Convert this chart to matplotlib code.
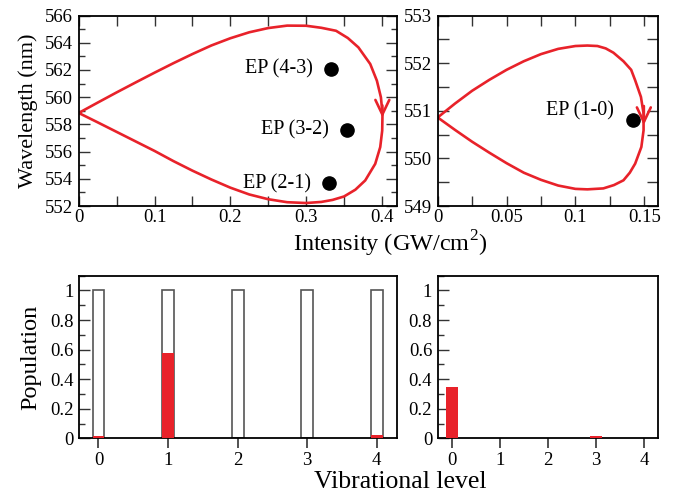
import matplotlib
matplotlib.use("Agg")
import matplotlib.pyplot as plt
from matplotlib.ticker import MultipleLocator, FuncFormatter

plt.rcParams["font.family"] = ["Liberation Serif", "DejaVu Serif"]
plt.rcParams["mathtext.fontset"] = "custom"
plt.rcParams["mathtext.rm"] = "Liberation Serif"

RED = "#e8222a"

# --- top-left loop ---
loop_a_x = [0.0, 0.025, 0.05, 0.075, 0.10, 0.125, 0.15, 0.175, 0.20, 0.225, 0.25, 0.275,
            0.30, 0.32, 0.3395, 0.355, 0.369, 0.3846, 0.3934, 0.3987, 0.4008, 0.4004,
            0.3978, 0.3912, 0.378, 0.365, 0.35, 0.335, 0.32, 0.30, 0.275, 0.25, 0.225,
            0.20, 0.175, 0.15, 0.125, 0.10, 0.075, 0.05, 0.025, 0.0]
loop_a_y = [558.84, 559.6, 560.35, 561.08, 561.8, 562.5, 563.17, 563.8, 564.33, 564.77,
            565.08, 565.26, 565.25, 565.1, 564.88, 564.35, 563.66, 562.44, 561.21, 559.99,
            558.77, 557.54, 556.33, 555.1, 553.88, 553.2, 552.7, 552.45, 552.3, 552.22,
            552.28, 552.5, 552.85, 553.35, 553.95, 554.6, 555.3, 556.05, 556.75, 557.45,
            558.15, 558.84]

# --- top-right loop ---
loop_b_x = [0.0, 0.0125, 0.025, 0.0375, 0.05, 0.0625, 0.075, 0.0875, 0.10, 0.1087, 0.116,
            0.122, 0.1276, 0.1349, 0.1405, 0.1434, 0.1476, 0.1495, 0.1495, 0.1479, 0.1434,
            0.1395, 0.1349, 0.128, 0.1203, 0.1087, 0.10, 0.0875, 0.075, 0.0625, 0.05,
            0.0375, 0.025, 0.0125, 0.0]
loop_b_y = [550.86, 551.15, 551.42, 551.65, 551.86, 552.04, 552.19, 552.3, 552.36, 552.37,
            552.36, 552.31, 552.22, 552.04, 551.86, 551.64, 551.29, 550.94, 550.59, 550.24,
            549.89, 549.7, 549.54, 549.44, 549.37, 549.35, 549.36, 549.43, 549.55, 549.7,
            549.9, 550.12, 550.35, 550.6, 550.86]

# exceptional points
ep_a_labels = ["EP (4-3)", "EP (3-2)", "EP (2-1)"]
ep_a_x = [0.333, 0.354, 0.330]
ep_a_y = [562.09, 557.57, 553.66]
ep_b_labels = ["EP (1-0)"]
ep_b_x = [0.1418]
ep_b_y = [550.80]

# populations
levels = [0, 1, 2, 3, 4]
pop_init = [1, 1, 1, 1, 1]
pop_a = [0.018, 0.58, 0.0, 0.0, 0.022]
pop_b = [0.35, 0.0, 0.0, 0.013, 0.0]

fig = plt.figure(figsize=(6.74, 4.95), dpi=100)
ax1 = fig.add_axes([0.1168, 0.5838, 0.4723, 0.3848])
ax2 = fig.add_axes([0.6494, 0.5838, 0.3269, 0.3848])
ax3 = fig.add_axes([0.1172, 0.1145, 0.4718, 0.3285])
ax4 = fig.add_axes([0.6494, 0.1145, 0.3269, 0.3285])

fmt = FuncFormatter(lambda v, p: f"{v:g}")


def style_top(ax, xmaj, xmin, ymaj, ymin, yminor_len):
    ax.xaxis.set_major_locator(MultipleLocator(xmaj))
    ax.xaxis.set_minor_locator(MultipleLocator(xmin))
    ax.yaxis.set_major_locator(MultipleLocator(ymaj))
    ax.yaxis.set_minor_locator(MultipleLocator(ymin))
    ax.xaxis.set_major_formatter(fmt)
    ax.yaxis.set_major_formatter(fmt)
    ax.tick_params(which="both", direction="in", top=True, right=True,
                   labelsize=13.5, width=1.0, color="#333333")
    ax.tick_params(axis="x", which="major", length=7.5, pad=2)
    ax.tick_params(axis="x", which="minor", length=7.5)
    ax.tick_params(axis="y", which="major", length=8, pad=4)
    ax.tick_params(axis="y", which="minor", length=yminor_len)
    for s in ax.spines.values():
        s.set_linewidth(1.3)


def draw_loop(ax, xs, ys, tip, tail):
    ax.plot(xs, ys, color=RED, lw=1.9, solid_joinstyle="round")
    ax.annotate("", xy=tip, xytext=tail,
                arrowprops=dict(arrowstyle="->,head_length=1.05,head_width=0.5",
                                color=RED, lw=1.9, shrinkA=0, shrinkB=0))


# top-left
draw_loop(ax1, loop_a_x, loop_a_y, (0.4006, 558.5), (0.4006, 559.4))
ax1.plot(ep_a_x, ep_a_y, "o", color="black", ms=9.5)
for lab, x, y in zip(ep_a_labels, ep_a_x, ep_a_y):
    ax1.text(x - 0.024, y, lab, ha="right", va="center", fontsize=14.5)
ax1.set_xlim(0, 0.42)
ax1.set_ylim(552, 566)
style_top(ax1, 0.1, 0.05, 2, 1, 4)
ax1.set_ylabel("Wavelength (nm)", fontsize=16, labelpad=5)

# top-right
draw_loop(ax2, loop_b_x, loop_b_y, (0.1497, 550.70), (0.1497, 551.1))
ax2.plot(ep_b_x, ep_b_y, "o", color="black", ms=9.5)
for lab, x, y in zip(ep_b_labels, ep_b_x, ep_b_y):
    ax2.text(x - 0.0135, y + 0.19, lab, ha="right", va="center", fontsize=14.5)
ax2.set_xlim(0, 0.16)
ax2.set_ylim(549, 553)
style_top(ax2, 0.05, 0.025, 1, 0.5, 8)

fig.text(0.579, 0.508, "Intensity (GW/cm$^2$)", ha="center", va="center", fontsize=17.5)


def style_bottom(ax):
    ax.set_ylim(0, 1.1)
    ax.set_xticks(levels)
    ax.yaxis.set_major_locator(MultipleLocator(0.2))
    ax.yaxis.set_minor_locator(MultipleLocator(0.1))
    ax.yaxis.set_major_formatter(fmt)
    ax.tick_params(axis="y", which="both", direction="in", labelsize=13.5,
                   width=1.0, color="#333333")
    ax.tick_params(axis="y", which="major", length=8, pad=4)
    ax.tick_params(axis="y", which="minor", length=4)
    ax.tick_params(axis="x", direction="out", length=7, width=1.2,
                   color="#333333", labelsize=13.5, pad=3)
    for s in ax.spines.values():
        s.set_linewidth(1.3)


# bottom-left
ax3.bar(levels, pop_init, width=0.17, color="white", edgecolor="#555555",
        linewidth=1.2, zorder=2)
ax3.bar(levels, pop_a, width=0.17, color=RED, linewidth=0, zorder=3)
ax3.set_xlim(-0.28, 4.29)
style_bottom(ax3)
ax3.set_ylabel("Population", fontsize=17.5, labelpad=6)

# bottom-right
ax4.bar(levels, pop_b, width=0.26, color=RED, linewidth=0, zorder=3)
ax4.set_xlim(-0.3, 4.29)
style_bottom(ax4)

fig.text(0.594, 0.026, "Vibrational level", ha="center", va="center", fontsize=18.5)

fig.savefig("out.png", dpi=100)
